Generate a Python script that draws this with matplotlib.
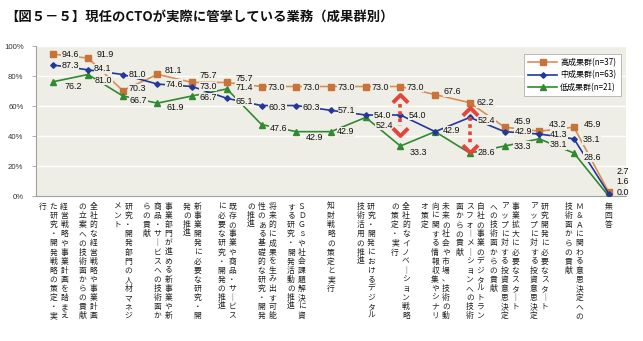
import matplotlib
matplotlib.use("Agg")
import matplotlib.pyplot as plt
from matplotlib.path import Path
import numpy as np

plt.rcParams['font.family'] = ['Liberation Sans', 'Noto Sans CJK JP', 'DejaVu Sans']

# ---------------- data ----------------
title = "【図５－５】現任のCTOが実際に管掌している業務（成果群別）"

# category labels, split into the vertical columns used in the reference (read right-to-left)
categories = [
    ["経営戦略や事業計画を踏まえ", "た研究・開発戦略の策定・実", "行"],
    ["全社的な経営戦略や事業計画", "の立案への技術面からの貢献"],
    ["研究・開発部門の人材マネジ", "メント"],
    ["事業部門が進める新事業や新", "商品・サービスへの技術面か", "らの貢献"],
    ["新事業開発に必要な研究・開", "発の推進"],
    ["既存の事業や商品・サービス", "に必要な研究・開発の推進"],
    ["将来的に成果を生み出す可能", "性のある基礎的な研究・開発", "の推進"],
    ["ＳＤＧｓや社会課題解決に資", "する研究・開発活動の推進"],
    ["知財戦略の策定と実行"],
    ["研究・開発におけるデジタル", "技術活用の推進"],
    ["全社的なイノベーション戦略", "の策定・実行"],
    ["未来の社会や市場、技術の動", "向に関する情報収集やシナリ", "オ策定"],
    ["自社の事業のデジタルトラン", "スフォーメーションへの技術", "面からの貢献"],
    ["事業拡大に必要なスタート", "アップに対する投資意思決定", "への技術面からの貢献"],
    ["研究開発に必要なスタート", "アップに対する投資意思決定"],
    ["Ｍ＆Ａに関わる意思決定への", "技術面からの貢献"],
    ["無回答"],
]

series_names = ["高成果群(n=37)", "中成果群(n=63)", "低成果群(n=21)"]
high = [94.6, 91.9, 70.3, 81.1, 75.7, 75.7, 73.0, 73.0, 73.0, 73.0, 73.0, 67.6, 62.2, 45.9, 43.2, 45.9, 2.7]
mid = [87.3, 84.1, 81.0, 74.6, 73.0, 65.1, 60.3, 60.3, 57.1, 54.0, 54.0, 42.9, 52.4, 42.9, 41.3, 38.1, 1.6]
low = [76.2, 81.0, 66.7, 61.9, 66.7, 71.4, 47.6, 42.9, 42.9, 52.4, 33.3, 42.9, 28.6, 33.3, 38.1, 28.6, 0.0]

yticks = [0, 20, 40, 60, 80, 100]
ytick_labels = ["0%", "20%", "40%", "60%", "80%", "100%"]

# gap arrows: (category index, top value, bottom value)
gap_arrows = [(10, 67.5, 41.0), (12, 58.5, 29.5)]

# ---------------- style (label offsets in px: dx, dy; +dy = down) ----------------
high_off = [(8, 0), (9, -4), (6, -2), (7, -4), (7, -7), (9, -4), (6, 1), (6, 1), (6, 1), (6, 1), (6, 1),
            (8, -3), (7, 0), (9, -6), (10, -7), (10, -3), (8, -20)]
mid_off = [(8, 0), (6, -1), (6, 0), (8, 0), (7, 0), (9, 3), (7, 2), (6, 2), (7, 0), (8, 0), (8, 0),
           (8, -1), (8, 3), (10, 0), (11, 0), (9, 1), (8, -12)]
low_off = [(11, 5), (7, 6), (7, 5), (9, 4), (7, 2), (9, -1), (8, 4), (9, 6), (6, 0), (10, 8), (9, 6),
           (8, -1), (8, -1), (9, 0), (10, 6), (10, 4), (8, -4)]

c_high_line, c_high_mk = "#d98f55", "#c8733a"
c_mid = "#23389a"
c_low = "#2f8a30"
bg = "#efeee6"

W, H = 643, 341
fig = plt.figure(figsize=(W / 100, H / 100), dpi=100)
fig.patch.set_facecolor("white")

ax_l, ax_r, ax_t, ax_b = 36, 626, 46, 196
ax = fig.add_axes([ax_l / W, 1 - ax_b / H, (ax_r - ax_l) / W, (ax_b - ax_t) / H])
ax.set_facecolor(bg)
n = len(categories)
x = np.arange(n)
ax.set_xlim(-0.5, n - 0.5)
ax.set_ylim(0, 100)

for yv in yticks[1:]:
    ax.axhline(yv, color="white", lw=1.0, zorder=1)

for s in ["top", "right"]:
    ax.spines[s].set_visible(False)
for s in ["left", "bottom"]:
    ax.spines[s].set_color("#a0a0a0")
    ax.spines[s].set_linewidth(0.8)

ax.set_yticks(yticks)
ax.set_yticklabels(ytick_labels, fontsize=5.6, color="#333333")
ax.tick_params(axis="y", length=3, width=0.6, color="#a0a0a0", pad=6)
ax.set_xticks([])

px = 0.72  # px -> pt

l1, = ax.plot(x, high, color=c_high_line, lw=1.2, marker="s", ms=5, mfc=c_high_mk, mec=c_high_mk, zorder=4,
              label=series_names[0])
l2, = ax.plot(x, mid, color=c_mid, lw=1.2, marker="D", ms=2.8, mfc=c_mid, mec=c_mid, zorder=5,
              label=series_names[1])
l3, = ax.plot(x, low, color=c_low, lw=1.2, marker="^", ms=5, mfc=c_low, mec=c_low, zorder=4,
              label=series_names[2])

for vals, offs in [(high, high_off), (mid, mid_off), (low, low_off)]:
    for i, v in enumerate(vals):
        dx, dy = offs[i]
        ax.annotate(f"{v:.1f}", xy=(i, v), xytext=(dx * px, -dy * px), textcoords="offset points",
                    ha="left", va="center", fontsize=6.4, color="#111111", zorder=6, annotation_clip=False,
                    bbox=dict(boxstyle="square,pad=0.05", fc=bg, ec="none") if i < n - 1 else None)

# gap arrows
chev = Path([(-1, -0.55), (0, 0.45), (1, -0.55)], [Path.MOVETO, Path.LINETO, Path.LINETO])
chev_dn = Path([(-1, 0.55), (0, -0.45), (1, 0.55)], [Path.MOVETO, Path.LINETO, Path.LINETO])
red = "#e5443d"
for ci, top, bot in gap_arrows:
    ax.plot([ci, ci], [top - 6, bot + 6], color=red, lw=2.6, ls=(0, (1.0, 1.0)), zorder=7,
            solid_capstyle="butt", dash_capstyle="butt")
    ax.plot([ci], [top - 2], marker=chev, ms=11, mfc="none", mec=red, mew=2.8, zorder=7, ls="none")
    ax.plot([ci], [bot + 2], marker=chev_dn, ms=11, mfc="none", mec=red, mew=2.8, zorder=7, ls="none")

# legend
leg = ax.legend(handles=[l1, l2, l3], loc="upper right", bbox_to_anchor=(0.998, 0.975),
                frameon=True, fancybox=False, edgecolor="#b0b0b0", facecolor="white", framealpha=1,
                handlelength=3.6, handletextpad=0.4, borderpad=0.55, labelspacing=0.4,
                prop={"family": ["Noto Sans CJK JP"], "size": 5.8})
leg.get_frame().set_linewidth(0.6)

# vertical category labels
char_step = 9.1 * px
col_step = 10.8 * px
for i, cols in enumerate(categories):
    ncol = len(cols)
    for j, col in enumerate(cols):
        cx = ((ncol - 1) / 2 - j) * col_step
        for k, ch in enumerate(col):
            if ch == "ー":
                ch = "｜"
            ax.annotate(ch, xy=(i, 0), xycoords=("data", "axes fraction"),
                        xytext=(cx, -11 * px - k * char_step), textcoords="offset points",
                        ha="center", va="center", fontsize=5.6, color="#222222",
                        family=["Noto Sans CJK JP"], annotation_clip=False)

fig.text(5 / W, 1 - 17 / H, title, fontsize=9.6, fontweight="bold", family=["Noto Sans CJK JP"],
         ha="left", va="center", color="#111111")

fig.savefig("out.png", dpi=100, facecolor="white")
